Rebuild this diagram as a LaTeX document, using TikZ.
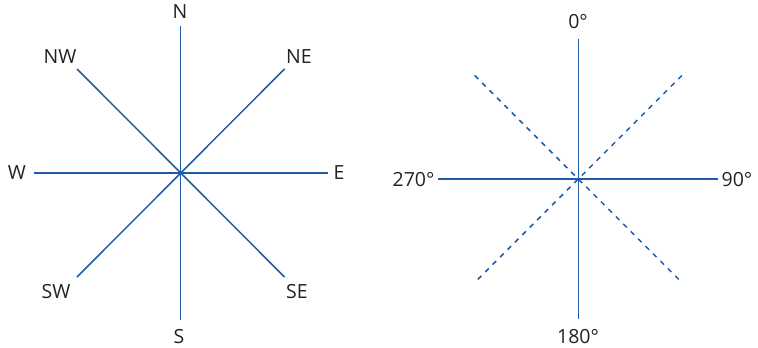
\documentclass[tikz,border=0pt]{standalone}
\usepackage{fontspec}
\setmainfont{Open Sans}
\usepackage{xcolor}
\definecolor{rosa}{HTML}{1F5BA8}
\definecolor{texto}{HTML}{222222}
\tikzset{
  rumbo/.style={draw=rosa, line width=1.5pt},
  rumbopunt/.style={draw=rosa, line width=1.5pt, dash pattern=on 5pt off 5.5pt},
  etiqueta/.style={font=\fontsize{19.5}{22}\selectfont, text=texto, inner sep=0pt}
}
\begin{document}
\begin{tikzpicture}[x=1pt, y=-1pt]
  \useasboundingbox (0,0) rectangle (758,348);
  % rosa de los vientos
  \coordinate (c1) at (180.7,173);
  \coordinate (n) at (180.7,26);  \coordinate (s) at (180.7,320);
  \coordinate (w) at (34,173);    \coordinate (e) at (328,173);
  \coordinate (nw) at (77,69);    \coordinate (se) at (284.5,277);
  \coordinate (ne) at (284.5,69); \coordinate (sw) at (77,277);
  \draw[rumbo] (n) -- (s);   \draw[rumbo] (w) -- (e);
  \draw[rumbo] (nw) -- (se); \draw[rumbo] (ne) -- (sw);
  \node[etiqueta] (lN) at (180,11.5) {N};
  \node[etiqueta] (lS) at (179,337) {S};
  \node[etiqueta] (lW) at (17,173) {W};
  \node[etiqueta] (lE) at (339,173) {E};
  \node[etiqueta] (lNW) at (60,57) {NW};
  \node[etiqueta] (lNE) at (299,57) {NE};
  \node[etiqueta] (lSW) at (56,292) {SW};
  \node[etiqueta] (lSE) at (297,292) {SE};
  % grados
  \coordinate (c2) at (578.3,179);
  \coordinate (g0) at (578.3,39);   \coordinate (g180) at (578.3,319);
  \coordinate (g270) at (438,179);  \coordinate (g90) at (718,179);
  \coordinate (d1) at (474.7,75.5); \coordinate (d3) at (681.9,282.5);
  \coordinate (d2) at (681.9,75.5); \coordinate (d4) at (474.7,282.5);
  \draw[rumbo] (g0) -- (g180); \draw[rumbo] (g270) -- (g90);
  \draw[rumbopunt] (d1) -- (d3); \draw[rumbopunt] (d2) -- (d4);
  \node[etiqueta] (l0) at (578,22) {0°};
  \node[etiqueta] (l180) at (578,337) {180°};
  \node[etiqueta] (l270) at (413.5,180) {270°};
  \node[etiqueta] (l90) at (737,180) {90°};
\end{tikzpicture}
\end{document}
